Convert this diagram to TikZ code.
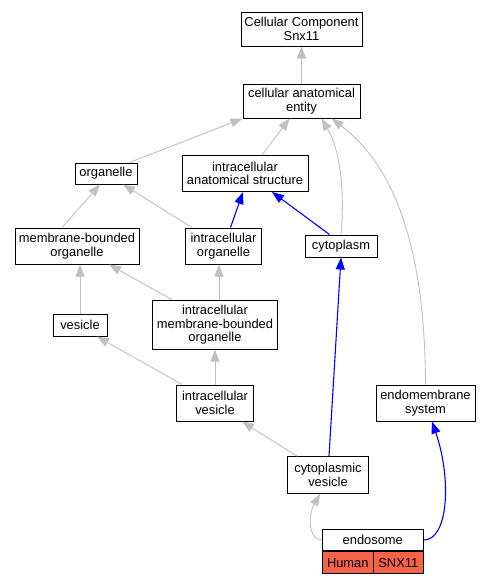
\documentclass[tikz,border=0pt]{standalone}
\usepackage{fontspec}
\setmainfont{Liberation Sans}
\usetikzlibrary{arrows.meta}
\definecolor{grigio}{RGB}{192,192,192}
\definecolor{rosso}{RGB}{244,98,72}
\begin{document}
\begin{tikzpicture}[
		x=1pt, y=-1pt,
		termine/.style={draw, line width=1pt, inner sep=0pt, align=center, font=\fontsize{12.9}{13.4}\selectfont},
		cella/.style={termine, fill=rosso, minimum height=21.7pt},
		isa/.style={-{Triangle[length=12pt,width=9pt]}, line width=0.9pt, grigio},
		parte/.style={-{Triangle[length=12pt,width=9pt]}, line width=1.1pt, blue}]
	
	\useasboundingbox (0,0) rectangle (491,584);
	
	%% --- termini ---
	\node[termine, minimum width=121pt, minimum height=34pt] (cc) at (301.5,29) {Cellular Component\\Snx11};
	\node[termine, minimum width=117pt, minimum height=34pt] (cae) at (301.5,101) {cellular anatomical\\entity};
	\node[termine, minimum width=62pt, minimum height=21pt] (org) at (106,173.5) {organelle};
	\node[termine, minimum width=126pt, minimum height=36pt] (ias) at (245,173.5) {intracellular\\anatomical structure};
	\node[termine, minimum width=124pt, minimum height=36pt] (mbo) at (77,246) {membrane-bounded\\organelle};
	\node[termine, minimum width=76pt, minimum height=36pt] (io) at (223.5,246) {intracellular\\organelle};
	\node[termine, minimum width=72pt, minimum height=22pt] (cyto) at (341,246) {cytoplasm};
	\node[termine, minimum width=54pt, minimum height=22pt] (ves) at (80,325) {vesicle};
	\node[termine, minimum width=124.6pt, minimum height=49pt] (imbo) at (215,324.7) {intracellular\\membrane-bounded\\organelle};
	\node[termine, minimum width=76.6pt, minimum height=36pt] (iv) at (215,403) {intracellular\\vesicle};
	\node[termine, minimum width=99pt, minimum height=36pt] (ems) at (425.5,403) {endomembrane\\system};
	\node[termine, minimum width=80.6pt, minimum height=36.6pt] (cv) at (328,475) {cytoplasmic\\vesicle};
	
	%% --- endosome (tabella) ---
	\node[termine, minimum width=101pt, minimum height=21.7pt] (endo) at (372.8,540) {endosome};
	\node[cella, minimum width=51pt, anchor=north west] (umano) at (endo.south west) {Human};
	\node[cella, minimum width=50pt, anchor=north east] (gene) at (endo.south east) {SNX11};
	
	%% --- is_a (grigio) ---
	\draw[isa] (cae) -- (cc);
	\draw[isa] (org.north east) ++(-8,0) -- (cae.south west);
	\draw[isa] (ias.north) ++(17,0) -- ([xshift=-12pt]cae.south);
	\draw[isa] (cyto.north) .. controls (345,190) and (340,150) .. ([xshift=20pt]cae.south);
	\draw[isa] (ems.north) .. controls (425,260) and (400,170) .. ([xshift=30pt]cae.south);
	\draw[isa] ([xshift=-15pt]mbo.north) -- ([xshift=-6pt]org.south);
	\draw[isa] (io.north west) ++(7,0) -- ([xshift=17pt]org.south);
	\draw[isa] (ves) -- (ves |- mbo.south);
	\draw[isa] ([xshift=-43pt]imbo.north) -- ([xshift=32pt]mbo.south);
	\draw[isa] ([xshift=4pt]imbo.north) -- ([xshift=4pt]imbo.north |- io.south);
	\draw[isa] (iv.north west) ++(6,0) -- ([xshift=17pt]ves.south);
	\draw[isa] (iv) -- (imbo);
	\draw[isa] (cv.north west) ++(10,0) -- ([xshift=27pt]iv.south);
	\draw[isa] (endo.west) .. controls (308,540) and (308,515) .. ([xshift=-8pt]cv.south);
	
	%% --- part_of (blu) ---
	\draw[parte] ([xshift=7pt]io.north) -- ([xshift=-2pt]ias.south);
	\draw[parte] (cyto.north west) ++(25,0) -- ([xshift=27pt]ias.south);
	\draw[parte] ([xshift=1pt]cv.north) -- (cyto.south);
	\draw[parte] (endo.east) .. controls (448,540) and (452,480) .. ([xshift=6.5pt]ems.south);
	
\end{tikzpicture}
\end{document}
